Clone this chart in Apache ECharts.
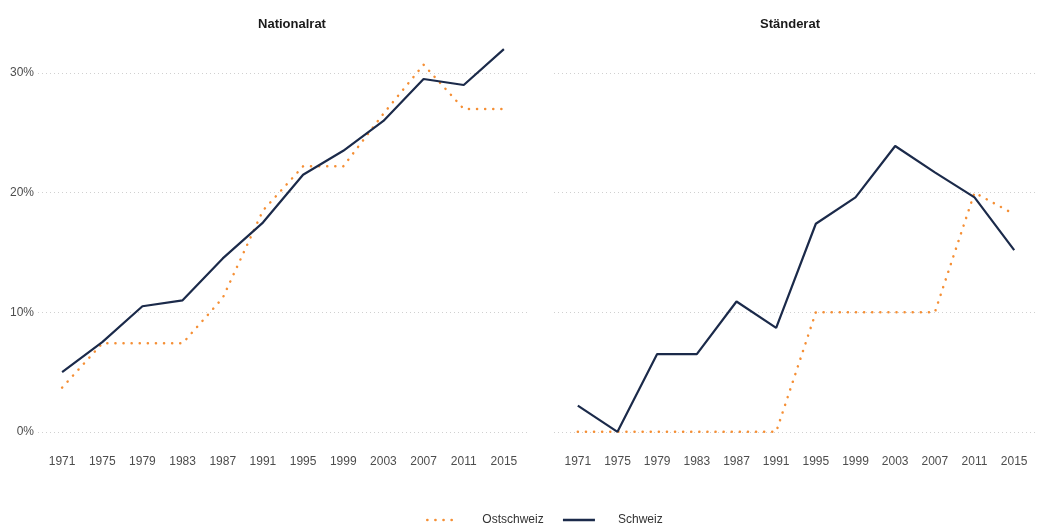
<!DOCTYPE html>
<html>
<head>
<meta charset="utf-8">
<script src="https://cdn.jsdelivr.net/npm/echarts@6/dist/echarts.min.js"></script>
<style>
  html, body { margin: 0; padding: 0; background: #fff; }
  #chart { width: 1038px; height: 524px; }
</style>
</head>
<body>
<div id="chart"></div>
<script>
// Wahljahre
const years = [1971, 1975, 1979, 1983, 1987, 1991, 1995, 1999, 2003, 2007, 2011, 2015]
// Frauenanteil in Prozent
const nationalratOst = [3.7, 7.4, 7.4, 7.4, 11.2, 18.5, 22.2, 22.2, 26.6, 30.7, 27.0, 27.0]
const nationalratCh = [5.0, 7.5, 10.5, 11.0, 14.5, 17.5, 21.5, 23.5, 26.0, 29.5, 29.0, 32.0]
const staenderatOst = [0, 0, 0, 0, 0, 0, 10, 10, 10, 10, 20, 18.2]
const staenderatCh = [2.2, 0, 6.5, 6.5, 10.9, 8.7, 17.4, 19.6, 23.9, 21.7, 19.6, 15.2]
const yTicks = [0, 10, 20, 30]
const panelTitles = ['Nationalrat', 'Ständerat']

const orange = '#f58f35'
const navy = '#1b2a4a'
const labelColor = '#4d4d4d'
const font = 'Liberation Sans'

function pairs (vals) {
  return years.map((y, i) => [y, vals[i]])
}

function xAxisFor (idx) {
  return {
    type: 'value',
    gridIndex: idx,
    min: 1968.6,
    max: 2017.4,
    axisLine: { show: false },
    axisTick: { show: false, customValues: years },
    splitLine: { show: false },
    axisLabel: {
      customValues: years,
      formatter: (v) => String(v),
      color: labelColor,
      fontSize: 12,
      fontFamily: font,
      margin: 5
    }
  }
}

function yAxisFor (idx) {
  return {
    type: 'value',
    gridIndex: idx,
    min: -1.6,
    max: 33.6,
    axisLine: { show: false },
    axisTick: { show: false, customValues: yTicks },
    splitLine: {
      show: true,
      lineStyle: { color: '#d0d0d0', type: [1, 3], width: 1 }
    },
    axisLabel: {
      show: idx === 0,
      customValues: yTicks,
      formatter: '{value}%',
      color: labelColor,
      fontSize: 12,
      fontFamily: font,
      margin: 4
    }
  }
}

function lineSeries (name, vals, idx, dotted) {
  return {
    name: name,
    type: 'line',
    xAxisIndex: idx,
    yAxisIndex: idx,
    data: pairs(vals),
    symbol: 'none',
    animation: false,
    z: dotted ? 2 : 3,
    lineStyle: dotted
      ? { color: orange, width: 2.5, type: [0.1, 8], cap: 'round' }
      : { color: navy, width: 2.2 },
    itemStyle: { color: dotted ? orange : navy }
  }
}

const chart = echarts.init(document.getElementById('chart'))
chart.setOption({
  animation: false,
  title: [
    { text: panelTitles[0], left: 287, top: 13, textAlign: 'center',
      textStyle: { fontSize: 13, fontWeight: 'bold', color: '#1a1a1a', fontFamily: font } },
    { text: panelTitles[1], left: 785, top: 13, textAlign: 'center',
      textStyle: { fontSize: 13, fontWeight: 'bold', color: '#1a1a1a', fontFamily: font } }
  ],
  grid: [
    { left: 38, width: 490, top: 30, height: 421 },
    { left: 554, width: 492, top: 30, height: 421 }
  ],
  xAxis: [xAxisFor(0), xAxisFor(1)],
  yAxis: [yAxisFor(0), yAxisFor(1)],
  legend: {
    top: 514,
    left: 426,
    padding: 0,
    itemWidth: 32,
    itemHeight: 12,
    itemGap: 18,
    data: ['Ostschweiz', 'Schweiz'],
    itemStyle: { opacity: 0 },
    lineStyle: { width: 2.6 },
    formatter: (name) => '\u2002\u2002\u2002' + name,
    textStyle: { fontSize: 12, color: '#333', fontFamily: font }
  },
  series: [
    lineSeries('Ostschweiz', nationalratOst, 0, true),
    lineSeries('Schweiz', nationalratCh, 0, false),
    lineSeries('Ostschweiz', staenderatOst, 1, true),
    lineSeries('Schweiz', staenderatCh, 1, false)
  ]
})
</script>
</body>
</html>
